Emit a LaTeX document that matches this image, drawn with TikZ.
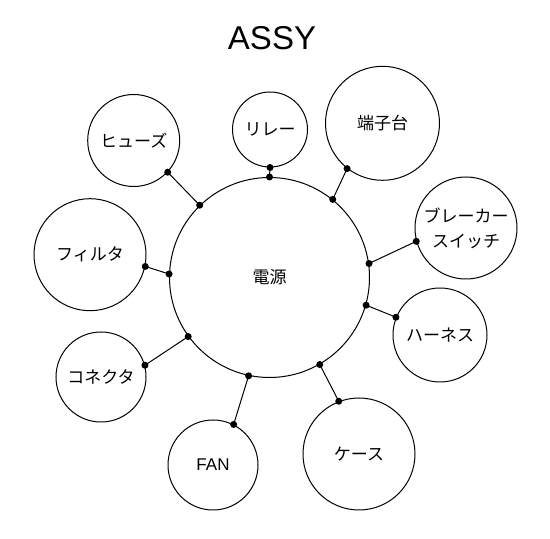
\documentclass[tikz,border=0pt]{standalone}
\usepackage{fontspec}
\setmainfont{Liberation Sans}
\newfontfamily\jpfont{Noto Sans CJK JP}
\begin{document}
\begin{tikzpicture}[x=1pt, y=1pt,
		part/.style={draw, circle, line width=1pt, inner sep=0pt, align=center,
			font=\jpfont\fontsize{17}{25}\selectfont},
		link/.style={line width=1pt},
		joint/.style={fill=black}]
			\useasboundingbox (0, 0) rectangle (550, 539);
			
			%	Title
			\node[font=\fontsize{33}{36}\selectfont] (title) at (272, 501) {ASSY};
			
			%	Center circle
			\node[part, minimum size=200pt] (power) at (269.5, 261.5) {電源};
			
			%	Outer circles
			\node[part, minimum size=92pt] (fuse) at (133.7, 398.5) {ヒューズ};
			\node[part, minimum size=75pt] (relay) at (270, 409.5) {リレー};
			\node[part, minimum size=114pt] (terminal) at (382.5, 415.7) {端子台};
			\node[part, minimum size=102pt] (breaker) at (466, 311) {ブレーカー\\スイッチ};
			\node[part, minimum size=94pt] (harness) at (440, 204) {ハーネス};
			\node[part, minimum size=112pt] (case) at (359, 85) {ケース};
			\node[part, minimum size=90pt, font=\fontsize{17}{20}\selectfont] (fan) at (213, 74) {FAN};
			\node[part, minimum size=90pt] (connector) at (101, 162) {コネクタ};
			\node[part, minimum size=112pt] (filter) at (90, 284.3) {フィルタ};
			
			%	Links
			\draw[link] (power.134) -- (fuse.-43);
			\draw[link] (power.90) -- (relay.-90);
			\draw[link] (power.51) -- (terminal.232);
			\draw[link] (power.8) -- (breaker.195);
			\draw[link] (power.-16) -- (harness.158);
			\draw[link] (power.-60) -- (case.111);
			\draw[link] (power.258) -- (fan.63);
			\draw[link] (power.216) -- (connector.15);
			\draw[link] (power.178) -- (filter.-12);
			
			%	Joints on the center circle
			\fill[joint] (power.134) circle (3.5pt);
			\fill[joint] (power.90) circle (3.5pt);
			\fill[joint] (power.51) circle (3.5pt);
			\fill[joint] (power.8) circle (3.5pt);
			\fill[joint] (power.-16) circle (3.5pt);
			\fill[joint] (power.-60) circle (3.5pt);
			\fill[joint] (power.258) circle (3.5pt);
			\fill[joint] (power.216) circle (3.5pt);
			\fill[joint] (power.178) circle (3.5pt);
			
			%	Joints on the outer circles
			\fill[joint] (fuse.-43) circle (3.5pt);
			\fill[joint] (relay.-90) circle (3.5pt);
			\fill[joint] (terminal.232) circle (3.5pt);
			\fill[joint] (breaker.195) circle (3.5pt);
			\fill[joint] (harness.158) circle (3.5pt);
			\fill[joint] (case.111) circle (3.5pt);
			\fill[joint] (fan.63) circle (3.5pt);
			\fill[joint] (connector.15) circle (3.5pt);
			\fill[joint] (filter.-12) circle (3.5pt);
		\end{tikzpicture}
\end{document}
